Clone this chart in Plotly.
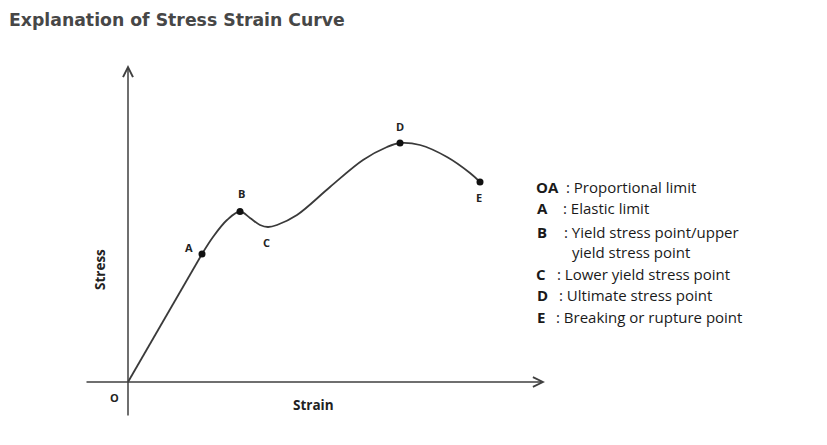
import plotly.graph_objects as go

# Data (strain / stress in arbitrary units)
linear_strain = [0.0, 0.74]
linear_stress = [0.0, 1.28]

curve_strain = [0.74, 0.85, 0.99, 1.12, 1.22, 1.32, 1.40, 1.49, 1.69, 2.02, 2.35, 2.59, 2.72, 2.92, 3.19, 3.42, 3.52]
curve_stress = [1.28, 1.45, 1.62, 1.705, 1.64, 1.57, 1.55, 1.57, 1.67, 1.95, 2.22, 2.35, 2.39, 2.37, 2.25, 2.09, 2.00]

point_names = ["A", "B", "D", "E"]
point_strain = [0.74, 1.12, 2.72, 3.52]
point_stress = [1.28, 1.705, 2.39, 2.00]

label_names = ["A", "B", "C", "D", "E"]
label_strain = [0.61, 1.13, 1.38, 2.72, 3.51]
label_stress = [1.35, 1.89, 1.40, 2.56, 1.85]

legend_keys = ["OA", "A", "B", "", "C", "D", "E"]
legend_texts = [": Proportional limit", ": Elastic limit", ": Yield stress point/upper",
                "yield stress point", ": Lower yield stress point", ": Ultimate stress point",
                ": Breaking or rupture point"]

W, H = 827, 445
X0, Y0, S = 128, 382, 100  # origin pixel and pixels per unit

def px(x):
    return x / W

def py(y):
    return 1 - y / H

line_col = "#3a3a3a"
fig = go.Figure()
fig.add_trace(go.Scatter(x=linear_strain, y=linear_stress, mode="lines",
                         line=dict(color=line_col, width=1.8), hoverinfo="skip"))
fig.add_trace(go.Scatter(x=curve_strain, y=curve_stress, mode="lines",
                         line=dict(color=line_col, width=1.8, shape="spline", smoothing=1.0),
                         hoverinfo="skip"))
fig.add_trace(go.Scatter(x=point_strain, y=point_stress, mode="markers",
                         marker=dict(color="#111", size=7), text=point_names, hoverinfo="text"))

ann = []
# axes with arrows
ann.append(dict(x=4.17, y=0, ax=-0.43, ay=0, xref="x", yref="y", axref="x", ayref="y",
                showarrow=True, arrowhead=5, arrowsize=1.3, arrowwidth=1.5, arrowcolor="#404040", text=""))
ann.append(dict(x=0, y=3.17, ax=0, ay=-0.35, xref="x", yref="y", axref="x", ayref="y",
                showarrow=True, arrowhead=5, arrowsize=1.3, arrowwidth=1.5, arrowcolor="#404040", text=""))

FONT = "Open Sans, Liberation Sans, Arial"
lab_font = dict(family=FONT, size=11, color="#222")
for n, xs, ys in zip(label_names, label_strain, label_stress):
    ann.append(dict(x=xs, y=ys, xref="x", yref="y", text="<b>%s</b>" % n, showarrow=False,
                    font=lab_font, xanchor="center", yanchor="middle"))

ann.append(dict(x=px(114), y=py(397), xref="paper", yref="paper", text="<b>O</b>", showarrow=False,
                xanchor="center", yanchor="middle", font=dict(family=FONT, size=11, color="#222")))
ann.append(dict(x=px(313), y=py(405), xref="paper", yref="paper", text="<b>Strain</b>", showarrow=False,
                xanchor="center", yanchor="middle", font=dict(family=FONT, size=13.5, color="#222")))
ann.append(dict(x=px(100), y=py(270), xref="paper", yref="paper", text="<b>Stress</b>", showarrow=False,
                xanchor="center", yanchor="middle",
                textangle=-90, font=dict(family=FONT, size=13.5, color="#222")))

ann.append(dict(x=px(7), y=py(20), xref="paper", yref="paper", xanchor="left", yanchor="middle",
                text="<b>Explanation of Stress Strain Curve</b>", showarrow=False,
                font=dict(family="DejaVu Sans, Verdana", size=17.3, color="#474747")))

row_y = [186.7, 208.3, 231.7, 251.7, 274, 295, 316.7]
key_x = [534, 535, 535, 535, 534, 535, 535]
txt_x = [564, 561, 562, 570, 555, 557, 554]
leg_font = dict(family=FONT, size=15, color="#1a1a1a")
for k, t, yy, kx, tx in zip(legend_keys, legend_texts, row_y, key_x, txt_x):
    if k:
        ann.append(dict(x=px(kx), y=py(yy), xref="paper", yref="paper", xanchor="left", yanchor="middle",
                        text="<b>%s</b>" % k, showarrow=False, font=leg_font))
    ann.append(dict(x=px(tx), y=py(yy), xref="paper", yref="paper", xanchor="left", yanchor="middle",
                    text=t, showarrow=False, font=leg_font))

fig.update_layout(
    width=W, height=H, margin=dict(l=0, r=0, t=0, b=0),
    paper_bgcolor="white", plot_bgcolor="white", showlegend=False,
    xaxis=dict(range=[-X0 / S, (W - X0) / S], visible=False, fixedrange=True),
    yaxis=dict(range=[-(H - Y0) / S, Y0 / S], visible=False, fixedrange=True),
    annotations=ann,
)
fig.write_html("out.html")
